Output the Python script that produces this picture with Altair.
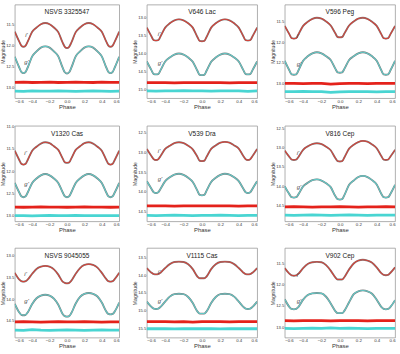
import altair as alt
import pandas as pd

PHASE = [-0.60, -0.55, -0.525, -0.50, -0.475, -0.45, -0.40, -0.35, -0.30, -0.25, -0.20,
         -0.15, -0.10, -0.05, -0.025, 0.00, 0.025, 0.05, 0.10, 0.15, 0.20, 0.25, 0.30,
         0.35, 0.40, 0.45, 0.475, 0.50, 0.525, 0.55, 0.60]
RES_PHASE = [-0.6, -0.5, -0.4, -0.3, -0.2, -0.1, 0.0, 0.1, 0.2, 0.3, 0.4, 0.5, 0.6]
X_TICKS = [-0.6, -0.4, -0.2, 0.0, 0.2, 0.4, 0.6]

TITLES = ["NSVS 3325547", "V646 Lac", "V596 Peg",
          "V1320 Cas", "V539 Dra", "V816 Cep",
          "NSVS 9045055", "V1115 Cas", "V902 Cep"]

Y_DOMAINS = [[11.02, 13.26], [12.65, 15.25], [11.08, 13.36],
             [10.98, 13.12], [12.32, 14.75], [12.44, 14.90],
             [12.83, 14.88], [13.23, 15.77], [11.12, 13.25]]

Y_TICKS = [[11.5, 12.0, 12.5, 13.0], [13.0, 13.5, 14.0, 14.5, 15.0], [11.5, 12.0, 12.5, 13.0],
           [11.0, 11.5, 12.0, 12.5, 13.0], [12.5, 13.0, 13.5, 14.0, 14.5], [12.5, 13.0, 13.5, 14.0, 14.5],
           [13.0, 13.5, 14.0, 14.5], [13.5, 14.0, 14.5, 15.0, 15.5], [11.5, 12.0, 12.5, 13.0]]

# i' light curves
i_p1 = [11.67, 11.90, 12.00, 12.03, 12.00, 11.90, 11.67, 11.57, 11.49, 11.46, 11.49, 11.57, 11.68, 11.93, 12.03, 12.06,
        12.03, 11.93, 11.68, 11.57, 11.49, 11.46, 11.49, 11.57, 11.67, 11.90, 12.00, 12.03, 12.00, 11.90, 11.67]
i_p2 = [13.29, 13.53, 13.64, 13.65, 13.64, 13.53, 13.29, 13.17, 13.09, 13.06, 13.09, 13.17, 13.29, 13.55, 13.66, 13.67,
        13.66, 13.55, 13.29, 13.17, 13.09, 13.06, 13.09, 13.17, 13.29, 13.53, 13.64, 13.65, 13.64, 13.53, 13.29]
i_p3 = [11.60, 11.80, 11.90, 11.91, 11.90, 11.80, 11.60, 11.50, 11.43, 11.40, 11.42, 11.49, 11.59, 11.78, 11.87, 11.88,
        11.87, 11.78, 11.59, 11.49, 11.42, 11.40, 11.43, 11.50, 11.60, 11.80, 11.90, 11.91, 11.90, 11.80, 11.60]
i_p4 = [11.54, 11.74, 11.83, 11.85, 11.83, 11.74, 11.54, 11.45, 11.38, 11.35, 11.37, 11.44, 11.52, 11.71, 11.80, 11.81,
        11.80, 11.71, 11.52, 11.44, 11.37, 11.35, 11.38, 11.45, 11.54, 11.74, 11.83, 11.85, 11.83, 11.74, 11.54]
i_p5 = [12.91, 13.09, 13.17, 13.19, 13.17, 13.09, 12.91, 12.83, 12.76, 12.74, 12.76, 12.83, 12.92, 13.11, 13.21, 13.22,
        13.21, 13.11, 12.91, 12.82, 12.75, 12.73, 12.75, 12.82, 12.90, 13.09, 13.17, 13.19, 13.17, 13.09, 12.91]
i_p6 = [13.08, 13.24, 13.31, 13.32, 13.31, 13.24, 13.06, 12.97, 12.91, 12.89, 12.91, 12.98, 13.07, 13.27, 13.35, 13.36,
        13.35, 13.25, 13.03, 12.93, 12.86, 12.83, 12.85, 12.92, 13.02, 13.22, 13.31, 13.32, 13.31, 13.23, 13.06]
i_p7 = [13.40, 13.55, 13.59, 13.60, 13.59, 13.55, 13.42, 13.31, 13.26, 13.24, 13.26, 13.32, 13.44, 13.60, 13.63, 13.64,
        13.63, 13.58, 13.42, 13.29, 13.22, 13.20, 13.22, 13.28, 13.40, 13.54, 13.59, 13.60, 13.59, 13.54, 13.40]
i_p8 = [13.80, 13.93, 13.97, 13.98, 13.97, 13.93, 13.80, 13.69, 13.63, 13.62, 13.63, 13.69, 13.83, 14.04, 14.09, 14.09,
        14.09, 14.04, 13.83, 13.69, 13.63, 13.62, 13.63, 13.69, 13.80, 13.93, 13.97, 13.98, 13.97, 13.93, 13.80]
i_p9 = [11.60, 11.73, 11.77, 11.78, 11.77, 11.73, 11.60, 11.50, 11.46, 11.45, 11.46, 11.53, 11.66, 11.82, 11.87, 11.87,
        11.87, 11.81, 11.63, 11.49, 11.42, 11.40, 11.42, 11.47, 11.58, 11.72, 11.76, 11.77, 11.76, 11.71, 11.58]

# g' light curves
g_p1 = [12.27, 12.52, 12.63, 12.66, 12.63, 12.52, 12.26, 12.14, 12.05, 12.02, 12.05, 12.14, 12.26, 12.53, 12.64, 12.67,
        12.64, 12.53, 12.26, 12.14, 12.05, 12.02, 12.05, 12.14, 12.26, 12.52, 12.63, 12.66, 12.63, 12.52, 12.27]
g_p2 = [14.23, 14.47, 14.58, 14.59, 14.58, 14.47, 14.23, 14.12, 14.04, 14.01, 14.04, 14.12, 14.24, 14.49, 14.60, 14.61,
        14.60, 14.49, 14.24, 14.12, 14.04, 14.01, 14.04, 14.12, 14.23, 14.47, 14.58, 14.59, 14.58, 14.47, 14.23]
g_p3 = [12.45, 12.68, 12.78, 12.79, 12.78, 12.68, 12.45, 12.34, 12.27, 12.24, 12.27, 12.34, 12.43, 12.64, 12.73, 12.74,
        12.73, 12.64, 12.43, 12.34, 12.27, 12.24, 12.27, 12.34, 12.45, 12.68, 12.78, 12.79, 12.78, 12.68, 12.45]
g_p4 = [12.26, 12.47, 12.56, 12.58, 12.56, 12.47, 12.26, 12.16, 12.09, 12.06, 12.09, 12.16, 12.26, 12.47, 12.56, 12.58,
        12.56, 12.47, 12.26, 12.16, 12.09, 12.06, 12.09, 12.16, 12.26, 12.47, 12.56, 12.58, 12.56, 12.47, 12.26]
g_p5 = [13.73, 13.92, 14.01, 14.03, 14.01, 13.92, 13.73, 13.63, 13.56, 13.54, 13.57, 13.64, 13.75, 13.97, 14.08, 14.09,
        14.08, 13.97, 13.75, 13.64, 13.57, 13.54, 13.56, 13.63, 13.73, 13.92, 14.01, 14.03, 14.01, 13.92, 13.73]
g_p6 = [14.00, 14.20, 14.28, 14.29, 14.28, 14.20, 14.00, 13.91, 13.84, 13.82, 13.85, 13.92, 14.02, 14.25, 14.33, 14.34,
        14.33, 14.22, 13.96, 13.85, 13.76, 13.73, 13.76, 13.84, 13.95, 14.19, 14.28, 14.29, 14.28, 14.19, 13.96]
g_p7 = [14.11, 14.30, 14.36, 14.37, 14.36, 14.30, 14.11, 13.98, 13.92, 13.90, 13.92, 13.99, 14.13, 14.34, 14.39, 14.40,
        14.39, 14.32, 14.10, 13.95, 13.88, 13.86, 13.88, 13.94, 14.08, 14.28, 14.34, 14.35, 14.34, 14.28, 14.08]
g_p8 = [14.75, 14.90, 14.95, 14.96, 14.95, 14.90, 14.75, 14.61, 14.54, 14.53, 14.54, 14.62, 14.79, 15.03, 15.09, 15.09,
        15.09, 15.03, 14.79, 14.62, 14.54, 14.53, 14.54, 14.61, 14.75, 14.90, 14.95, 14.96, 14.95, 14.90, 14.75]
g_p9 = [12.34, 12.52, 12.57, 12.58, 12.57, 12.52, 12.35, 12.24, 12.20, 12.19, 12.20, 12.28, 12.44, 12.62, 12.67, 12.67,
        12.67, 12.61, 12.41, 12.22, 12.15, 12.13, 12.15, 12.21, 12.35, 12.52, 12.57, 12.58, 12.57, 12.52, 12.36]

# residual bands (plotted offset below curves)
ri_p1 = [12.88, 12.875, 12.885, 12.88, 12.875, 12.885, 12.88, 12.875, 12.88, 12.885, 12.875, 12.88, 12.88]
rg_p1 = [13.09, 13.095, 13.085, 13.09, 13.09, 13.085, 13.09, 13.095, 13.09, 13.085, 13.09, 13.095, 13.09]
ri_p2 = [14.82, 14.815, 14.82, 14.825, 14.815, 14.82, 14.82, 14.815, 14.82, 14.825, 14.82, 14.815, 14.82]
rg_p2 = [15.05, 15.055, 15.045, 15.05, 15.04, 15.05, 15.05, 15.055, 15.05, 15.045, 15.05, 15.06, 15.05]
ri_p3 = [13.00, 13.00, 13.005, 13.00, 13.00, 13.02, 13.005, 13.00, 13.00, 13.005, 13.00, 13.00, 13.00]
rg_p3 = [13.20, 13.20, 13.195, 13.20, 13.20, 13.22, 13.205, 13.20, 13.20, 13.20, 13.205, 13.20, 13.20]
ri_p4 = [12.80, 12.805, 12.80, 12.795, 12.80, 12.80, 12.805, 12.80, 12.795, 12.80, 12.80, 12.805, 12.80]
rg_p4 = [12.99, 12.995, 13.00, 12.99, 12.985, 12.99, 12.99, 12.985, 12.99, 12.995, 12.99, 12.99, 12.99]
ri_p5 = [14.36, 14.355, 14.36, 14.365, 14.36, 14.355, 14.36, 14.36, 14.355, 14.36, 14.365, 14.36, 14.36]
rg_p5 = [14.60, 14.605, 14.60, 14.595, 14.60, 14.605, 14.60, 14.60, 14.595, 14.60, 14.605, 14.60, 14.60]
ri_p6 = [14.53, 14.525, 14.53, 14.535, 14.53, 14.53, 14.525, 14.53, 14.535, 14.53, 14.53, 14.525, 14.53]
rg_p6 = [14.74, 14.745, 14.74, 14.735, 14.74, 14.75, 14.74, 14.735, 14.74, 14.745, 14.74, 14.74, 14.74]
ri_p7 = [14.52, 14.515, 14.52, 14.525, 14.52, 14.515, 14.52, 14.52, 14.515, 14.52, 14.525, 14.52, 14.52]
rg_p7 = [14.71, 14.715, 14.70, 14.71, 14.715, 14.71, 14.705, 14.71, 14.715, 14.71, 14.705, 14.71, 14.71]
ri_p8 = [15.32, 15.315, 15.32, 15.325, 15.32, 15.33, 15.32, 15.315, 15.32, 15.325, 15.32, 15.315, 15.32]
rg_p8 = [15.52, 15.515, 15.52, 15.525, 15.52, 15.52, 15.515, 15.52, 15.525, 15.52, 15.515, 15.52, 15.52]
ri_p9 = [12.85, 12.855, 12.85, 12.845, 12.85, 12.855, 12.85, 12.845, 12.85, 12.855, 12.85, 12.85, 12.85]
rg_p9 = [13.03, 13.035, 13.03, 13.025, 13.03, 13.02, 13.03, 13.025, 13.03, 13.035, 13.03, 13.03, 13.03]

# band label positions (phase, magnitude)
I_LABELS = [(-0.48, 11.75), (-0.48, 13.47), (-0.47, 11.84), (-0.49, 11.58), (-0.48, 12.95),
            (-0.47, 13.13), (-0.49, 13.42), (-0.48, 13.91), (-0.47, 11.77)]
G_LABELS = [(-0.49, 12.40), (-0.48, 14.28), (-0.47, 12.52), (-0.49, 12.29), (-0.48, 13.67),
            (-0.47, 14.02), (-0.49, 14.04), (-0.48, 14.73), (-0.47, 12.38)]

I_CURVES = [i_p1, i_p2, i_p3, i_p4, i_p5, i_p6, i_p7, i_p8, i_p9]
G_CURVES = [g_p1, g_p2, g_p3, g_p4, g_p5, g_p6, g_p7, g_p8, g_p9]
I_RES = [ri_p1, ri_p2, ri_p3, ri_p4, ri_p5, ri_p6, ri_p7, ri_p8, ri_p9]
G_RES = [rg_p1, rg_p2, rg_p3, rg_p4, rg_p5, rg_p6, rg_p7, rg_p8, rg_p9]

WIDTHS = [106, 112, 112]
HEIGHTS = [95, 97, 91]

RED = "#d2443b"
CYAN = "#62c8c6"
RED_RES = "#e3160f"
CYAN_RES = "#3fd3d0"
FONT = "Liberation Sans"


def panel(k, w, h):
    x = alt.X("phase:Q", scale=alt.Scale(domain=[-0.6, 0.6], nice=False, zero=False),
              axis=alt.Axis(values=X_TICKS, format=".1f", title="Phase"))
    y = alt.Y("mag:Q", scale=alt.Scale(domain=Y_DOMAINS[k], reverse=True, nice=False, zero=False),
              axis=alt.Axis(values=Y_TICKS[k], format=".1f", title="Magnitude"))

    layers = []
    for curve, col in ((I_CURVES[k], RED), (G_CURVES[k], CYAN)):
        df = pd.DataFrame({"phase": PHASE, "mag": curve})
        base = alt.Chart(df)
        layers.append(base.mark_line(color="#7d7d7d", strokeWidth=1.9, interpolate="monotone",
                                     clip=True).encode(x=x, y=y))
        layers.append(base.mark_line(color=col, strokeWidth=1.1, interpolate="monotone",
                                     clip=True).encode(x=x, y=y))
    for res, col in ((I_RES[k], RED_RES), (G_RES[k], CYAN_RES)):
        df = pd.DataFrame({"phase": RES_PHASE, "mag": res})
        layers.append(alt.Chart(df).mark_line(color=col, strokeWidth=2.8, opacity=0.95,
                                              clip=True).encode(x=x, y=y))
    lab = pd.DataFrame({"phase": [I_LABELS[k][0], G_LABELS[k][0]],
                        "mag": [I_LABELS[k][1], G_LABELS[k][1]],
                        "t": ["i'", "g'"]})
    layers.append(alt.Chart(lab).mark_text(font=FONT, fontSize=6, fontStyle="italic",
                                           color="#444", align="left", baseline="middle").encode(
        x=x, y=y, text="t:N"))
    ttl = pd.DataFrame({"t": [TITLES[k]]})
    layers.append(alt.Chart(ttl).mark_text(font=FONT, fontSize=6.6, color="#222",
                                           align="center", baseline="middle").encode(
        x=alt.value(w / 2), y=alt.value(8), text="t:N"))
    return alt.layer(*layers).properties(width=w, height=h)


rows = []
for r in range(3):
    rows.append(alt.hconcat(*[panel(r * 3 + c, WIDTHS[c], HEIGHTS[r]) for c in range(3)],
                            spacing=12))

chart = alt.vconcat(*rows, spacing=14).properties(
    padding={"left": 0, "top": 1, "right": 4, "bottom": 0}
).configure_view(stroke="#9a9a9a", strokeWidth=0.8).configure_axis(
    domain=False, grid=False, ticks=False, labelFont=FONT, titleFont=FONT,
    labelColor="#333", titleColor="#333", titleFontWeight="normal"
).configure_axisY(
    labelFontSize=4.2, labelPadding=1, minExtent=9, maxExtent=9,
    titleFontSize=5.2, titlePadding=0
).configure_axisX(
    labelFontSize=4.4, labelPadding=1, minExtent=5, maxExtent=5,
    titleFontSize=6, titlePadding=0.5
)

chart.save("out.html", embed_options={"renderer": "svg", "actions": False})
